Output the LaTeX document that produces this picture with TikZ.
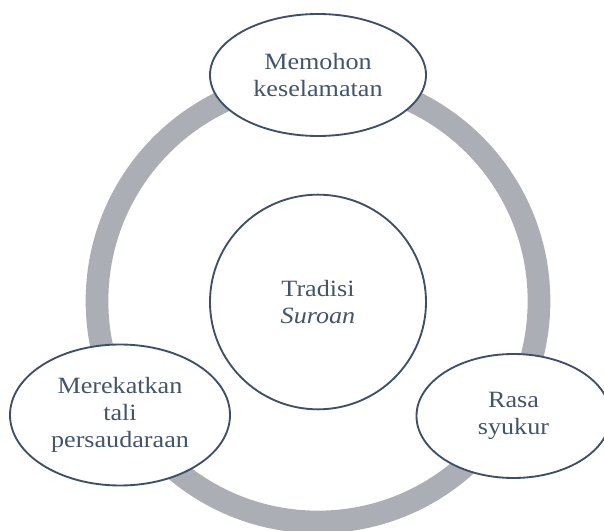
\documentclass[tikz,border=0pt]{standalone}
\usepackage{fontspec}
\setmainfont{Liberation Serif}[FakeStretch=1.12]
\usepackage{tikz}
\usetikzlibrary{shapes.geometric}

\definecolor{ringgray}{HTML}{ABAEB4}
\definecolor{slate}{HTML}{3E5068}
\definecolor{txt}{HTML}{44546A}

\tikzset{
  idea/.style={ellipse, draw=slate, line width=1.4pt, fill=white, text=txt,
    align=center, inner sep=0pt, font=\fontsize{17.5}{20}\selectfont},
}

\begin{document}
\begin{tikzpicture}[x=0.75pt,y=-0.75pt]
\useasboundingbox (0,0) rectangle (604,531);
% ring
\draw[ringgray, line width=17pt] (318,301) circle (165.75pt);
\node[idea, minimum width=162pt, minimum height=91.5pt] (mohon) at (318,75) {Memohon\\keselamatan};
\node[idea, minimum width=162pt, minimum height=161pt] (tradisi) at (318,302) {Tradisi\\\textit{Suroan}};
\node[idea, minimum width=165pt, minimum height=105.75pt] (rekat) at (120,415) {Merekatkan\\tali\\persaudaraan};
\node[idea, minimum width=145.5pt, minimum height=93pt] (syukur) at (513.5,416) {Rasa\\syukur};
\end{tikzpicture}
\end{document}
